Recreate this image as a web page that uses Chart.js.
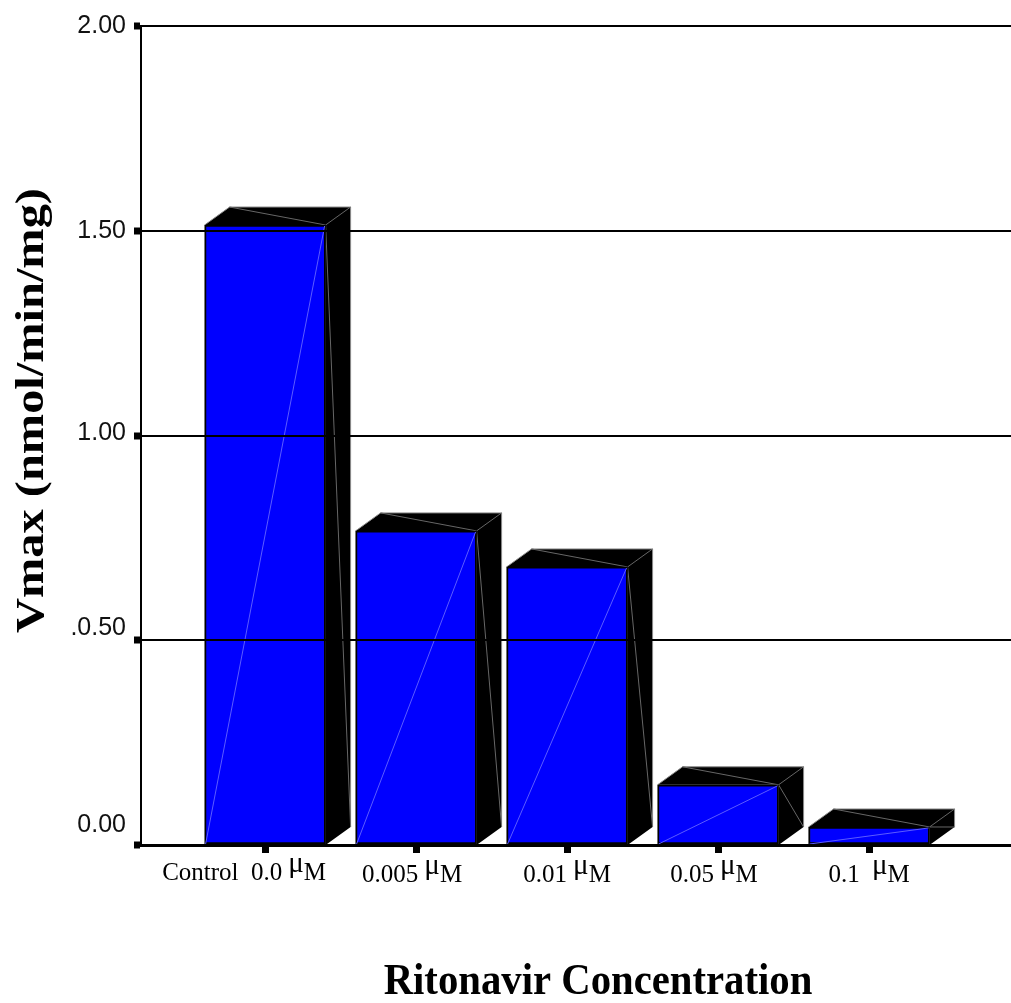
<!DOCTYPE html>
<html><head><meta charset="utf-8">
<style>html,body{margin:0;padding:0;background:#fff}#w{width:1011px;height:1003px;position:relative}</style>
<script src="https://cdn.jsdelivr.net/npm/chart.js@4"></script>
</head><body><div id="w"><canvas id="c" width="1011" height="1003"></canvas></div>
<script>
const categoryPositions = [1, 2, 3, 4, 5];
const concentrationLabels = ['Control  0.0', '0.005', '0.01', '0.05', '0.1 '];
const unitPrefix = 'μ';
const unitSuffix = 'M';
const vmaxValues = [1.514, 0.767, 0.679, 0.147, 0.044];
const yTickValues = [0, 0.5, 1, 1.5, 2];
const yTickLabels = ['0.00', '.0.50', '1.00', '1.50', '2.00'];
const xAxisTitle = 'Ritonavir Concentration';
const yAxisTitle = 'Vmax (nmol/min/mg)';

// presentation only
const yLabelLift = [20, 12, 2, 0, 0];
const xLabelShift = [-21, -4, 0, -4, 0];
const xLabelBaseline = [880, 882, 882, 882, 882];
const DEPTH = {dx: 25, dy: 18};

const bar3d = {
  id: 'bar3d',
  afterUpdate(chart) {
    const y = chart.scales.y, x = chart.scales.x;
    y.getLabelItems(chart.chartArea).forEach((it, i) => { it.options.translation[1] -= yLabelLift[i]; });
    [[x, 22, 10, 0.905, 1], [y, 9, -25, 1, 1.21]].forEach(([s, tx, ty, sx, sy]) => {
      if (s._wrapped) return;
      s._wrapped = true;
      const orig = s.drawTitle;
      s.drawTitle = function () {
        const c = this.ctx, cx = (this.left + this.right) / 2, cy = (this.top + this.bottom) / 2;
        c.save();
        c.translate(tx, ty);
        c.translate(cx, cy); c.scale(sx, sy); c.translate(-cx, -cy);
        orig.call(this);
        c.restore();
      };
    });
  },
  beforeDatasetsDraw(chart) {
    const c = chart.ctx, base = chart.scales.y.getPixelForValue(0);
    chart.getDatasetMeta(0).data.forEach(b => {
      const l = b.x - b.width / 2, r = b.x + b.width / 2, t = b.y;
      const dx = DEPTH.dx, dy = DEPTH.dy;
      c.save();
      c.fillStyle = '#000'; c.strokeStyle = '#8a8a8a'; c.lineWidth = 1;
      c.beginPath();
      c.moveTo(l, t); c.lineTo(l + dx, t - dy); c.lineTo(r + dx, t - dy);
      c.lineTo(r + dx, base - dy); c.lineTo(r, base); c.lineTo(r, t); c.closePath();
      c.fill();
      c.beginPath();
      c.moveTo(l, t); c.lineTo(l + dx, t - dy); c.lineTo(r + dx, t - dy); c.lineTo(r + dx, base - dy);
      c.stroke();
      c.strokeStyle = '#666';
      c.beginPath();
      c.moveTo(l + dx, t - dy); c.lineTo(r, t);
      c.moveTo(r, t); c.lineTo(r + dx, t - dy);
      c.moveTo(r, t); c.lineTo(r + dx, base - dy);
      c.stroke();
      c.restore();
    });
  },
  afterDatasetsDraw(chart) {
    const c = chart.ctx, base = chart.scales.y.getPixelForValue(0);
    chart.getDatasetMeta(0).data.forEach(b => {
      c.save();
      c.strokeStyle = '#5c5cff'; c.lineWidth = 1;
      c.beginPath();
      c.moveTo(b.x - b.width / 2 + 1, base - 1); c.lineTo(b.x + b.width / 2 - 1, b.y + 1);
      c.stroke();
      c.restore();
    });
  },
  afterDraw(chart) {
    const c = chart.ctx, xs = chart.scales.x;
    c.save();
    c.fillStyle = '#000'; c.textAlign = 'left'; c.textBaseline = 'alphabetic';
    const numFont = '25px "Liberation Serif"', muFont = '29px "Liberation Serif"';
    categoryPositions.forEach((v, i) => {
      c.font = numFont;
      const a = c.measureText(concentrationLabels[i]).width, m = c.measureText(unitSuffix).width;
      c.font = muFont;
      const u = c.measureText(unitPrefix).width;
      const gap = 6, total = a + gap + u + m;
      let px = xs.getPixelForValue(v) + xLabelShift[i] - total / 2;
      const y = xLabelBaseline[i];
      c.font = numFont; c.fillText(concentrationLabels[i], px, y);
      px += a + gap;
      c.font = muFont; c.fillText(unitPrefix, px, y - 8);
      px += u;
      c.font = numFont; c.fillText(unitSuffix, px, y);
    });
    c.restore();
  }
};

new Chart(document.getElementById('c'), {
  type: 'bar',
  data: {
    datasets: [{
      data: categoryPositions.map((x, i) => ({x, y: vmaxValues[i]})),
      backgroundColor: '#0000ff',
      borderColor: '#000',
      borderWidth: 2,
      borderSkipped: false,
      barThickness: 121
    }]
  },
  options: {
    responsive: false,
    animation: false,
    layout: {padding: {top: 26, right: 0, left: 0, bottom: 0}},
    plugins: {legend: {display: false}, title: {display: false}, tooltip: {enabled: false}},
    scales: {
      x: {
        type: 'linear',
        offset: false,
        min: 0.178, max: 5.94,
        afterFit(s) { s.height = 158; },
        afterBuildTicks(s) { s.ticks = categoryPositions.map(value => ({value})); },
        grid: {display: true, offset: false, drawOnChartArea: false, drawTicks: true, tickLength: 8, tickWidth: 7, tickColor: '#000'},
        border: {display: true, color: '#000', width: 3, z: 2},
        ticks: {display: false},
        title: {display: true, text: xAxisTitle, color: '#000', font: {family: 'Liberation Serif', size: 45, weight: 'bold'}, padding: {top: 98}}
      },
      y: {
        min: 0, max: 2,
        afterFit(s) { s.width = 141; },
        afterBuildTicks(s) { s.ticks = yTickValues.map(value => ({value})); },
        grid: {display: true, color: '#000', lineWidth: 2, z: 1, drawTicks: true, tickLength: 7, tickWidth: 7, tickColor: '#000'},
        border: {display: true, color: '#000', width: 2, z: 2},
        ticks: {
          color: '#111', padding: 8,
          font: {family: 'Liberation Sans', size: 25},
          callback: (v, i) => yTickLabels[i]
        },
        title: {display: true, text: yAxisTitle, color: '#000', font: {family: 'Liberation Serif', size: 40, weight: 'bold'}, padding: {top: 0, bottom: 0}}
      }
    }
  },
  plugins: [bar3d]
});
</script></body></html>
